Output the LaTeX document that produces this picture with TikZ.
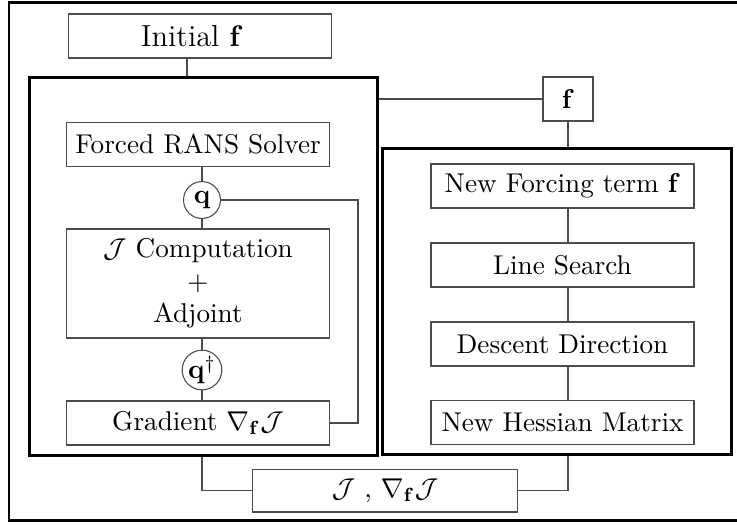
\documentclass[tikz,border=0pt]{standalone}
\usepackage{amsmath,amssymb,amsfonts}
\usepackage{xcolor}
\usepackage{tikz}
\usetikzlibrary{shapes,arrows,positioning,fit,calc}

\begin{document}
\begin{tikzpicture}[
    x=0.368pt, y=-0.368pt,
    box/.style={rectangle, draw=black!70, line width=0.4pt, minimum width=96.8pt, minimum height=16.2pt, inner sep=1pt},
    state/.style={circle, draw=black!70, line width=0.4pt, minimum size=13.6pt, inner sep=0pt},
    block/.style={rectangle, draw, line width=1.1pt},
    link/.style={draw, black!70, line width=0.4pt}
]
\useasboundingbox (0,0) rectangle (737,525);

% Outer frame
\draw[line width=1.1pt] (9,2.5) rectangle (741,520.5);

% Initial guess
\node[box, font=\fontsize{11.2}{13}\selectfont] (init) at (200, 36) {Initial $\mathbf{f}$\hspace*{5.9pt}};

% Left block (solver + adjoint)
\node[block, minimum width=127.7pt, minimum height=139.1pt] (left) at (203.5, 266) {};
\node[box] (rans) at (198, 144.5) {Forced RANS Solver};
\node[state] (q) at (202, 200) {$\mathbf{q}$};
\node[box, minimum height=40.1pt, align=center] (jcomp) at (198, 283.5) {$\mathcal{J}$ Computation\\$+$\\Adjoint};
\node[state] (qd) at (202, 370) {$\mathbf{q}^{\dagger}$};
\node[box] (grad) at (198, 423) {Gradient $\nabla_{\mathbf{f}}\mathcal{J}$};

% Right block (optimiser)
\node[box, minimum width=18.4pt] (fbox) at (568, 99) {$\mathbf{f}$};
\node[block, minimum width=128.1pt, minimum height=112.6pt] (right) at (557, 301) {};
\node[box] (newf) at (562.5, 186) {New Forcing term $\mathbf{f}$};
\node[box] (ls) at (562.5, 265) {Line Search};
\node[box] (dd) at (562.5, 344) {Descent Direction};
\node[box] (hess) at (562.5, 422.5) {New Hessian Matrix};

% Cost and gradient
\node[box, minimum width=97.2pt, minimum height=15.8pt] (cost) at (385, 490.5) {$\mathcal{J}$ , $\nabla_{\mathbf{f}}\mathcal{J}$};

\coordinate (fb) at (358, 0);

% Connections, left
\draw[link] ([xshift=-4.8pt]init.south) -- ([xshift=-4.8pt]init.south |- left.north);
\draw[link] (rans.south -| q.north) -- (q.north);
\draw[link] (q.south) -- (q.south |- jcomp.north);
\draw[link] (jcomp.south -| qd.north) -- (qd.north);
\draw[link] (qd.south) -- (qd.south |- grad.north);
\draw[link] (q.east) -- (q.east -| fb) -- (fb |- grad.east) -- (grad.east);

% Connections, right
\draw[link] (left.east |- fbox.west) -- (fbox.west);
\draw[link] (fbox.south) -- (fbox.south |- right.north);
\draw[link] (newf.south -| fbox.south) -- (ls.north -| fbox.south);
\draw[link] (ls.south -| fbox.south) -- (dd.north -| fbox.south);
\draw[link] (dd.south -| fbox.south) -- (hess.north -| fbox.south);

% Connections, bottom
\draw[link] (left.south -| q.south) -- (q.south |- cost.west) -- (cost.west);
\draw[link] (right.south -| fbox.south) -- (fbox.south |- cost.east) -- (cost.east);

\end{tikzpicture}
\end{document}
